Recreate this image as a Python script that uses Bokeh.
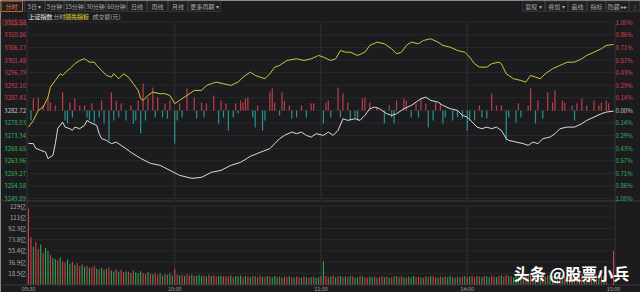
from bokeh.plotting import figure
from bokeh.models import Range1d
from bokeh.embed import file_html
from bokeh.resources import INLINE
from bokeh.core.properties import value

# ---------------- data ----------------
PRE_CLOSE = 3282.72
price_ticks = [3315.58, 3310.86, 3306.17, 3301.48, 3296.79, 3292.10, 3287.41, 3282.72,
               3278.03, 3273.34, 3268.65, 3263.96, 3259.27, 3254.58, 3249.89]
pct_labels = ["1.00%", "0.86%", "0.71%", "0.57%", "0.43%", "0.29%", "0.14%", "0.00%",
              "0.14%", "0.29%", "0.43%", "0.57%", "0.71%", "0.86%", "1.00%"]
vol_ticks = [129.2, 110.8, 92.3, 73.8, 55.4, 36.9, 18.5]
vol_labels = ["129亿", "111亿", "92.3亿", "73.8亿", "55.4亿", "36.9亿", "18.5亿"]
time_ticks = [0, 60, 120, 180, 240]
time_labels = ["09:30", "10:30", "11:30", "14:00", "15:00"]

# index (white line), minute -> price
index_t = [0, 2, 3, 5, 7, 8, 10, 11, 12, 14, 15, 17, 18, 19, 21, 23, 24, 25, 28, 29, 30, 32, 34, 36,
           38, 40, 42, 46, 50, 54, 58, 62, 67, 71, 75, 79, 83, 87, 91, 95, 99, 101, 103, 105, 108,
           110, 112, 114, 116, 118, 121, 123, 125, 127, 129, 131, 134, 136, 138, 140, 142, 144, 147,
           149, 151, 154, 157, 159, 161, 163, 165, 168, 170, 173, 176, 178, 180, 182, 184, 186, 188,
           190, 192, 194, 196, 197, 200, 203, 205, 207, 209, 211, 214, 216, 218, 221, 224, 227, 229,
           232, 235, 237, 240]
index_p = [3270.43, 3270.32, 3268.57, 3267.83, 3267.19, 3264.74, 3265.96, 3270.32, 3276.01, 3278.36,
           3276.50, 3275.90, 3275.27, 3276.50, 3275.90, 3277.13, 3278.99, 3278.36, 3277.13, 3274.04,
           3272.18, 3271.55, 3270.32, 3270.92, 3269.69, 3268.46, 3267.08, 3264.85, 3262.99, 3262.24,
           3260.38, 3258.52, 3257.40, 3257.78, 3259.64, 3260.38, 3262.24, 3263.36, 3265.59, 3267.08,
           3268.46, 3270.32, 3272.18, 3273.41, 3274.64, 3274.04, 3274.64, 3273.41, 3272.78, 3274.04,
           3273.41, 3274.64, 3273.41, 3275.27, 3279.62, 3278.99, 3279.62, 3278.99, 3280.85, 3283.35,
           3283.94, 3283.35, 3281.48, 3280.85, 3281.48, 3283.35, 3284.57, 3285.80, 3287.07, 3287.66,
           3286.44, 3285.80, 3284.57, 3283.35, 3282.71, 3280.85, 3280.22, 3278.36, 3276.50, 3275.90,
           3276.50, 3275.90, 3276.50, 3275.27, 3272.18, 3271.55, 3270.92, 3270.32, 3269.69, 3270.92,
           3270.32, 3272.18, 3272.78, 3274.04, 3275.90, 3276.50, 3276.50, 3277.76, 3278.99, 3280.22,
           3281.48, 3282.08, 3282.45]

# leading indicator (yellow line), minute -> price
lead_t = [0, 2, 4, 6, 8, 9, 11, 13, 14, 16, 17, 19, 21, 23, 25, 27, 28, 30, 32, 34, 35, 37, 39, 41,
          43, 45, 46, 47, 49, 51, 54, 56, 58, 60, 62, 65, 68, 71, 73, 75, 77, 80, 83, 86, 88, 91, 93,
          95, 97, 99, 101, 103, 106, 110, 113, 116, 119, 121, 124, 126, 128, 130, 132, 135, 138, 140,
          143, 146, 149, 151, 153, 155, 157, 160, 162, 165, 168, 170, 173, 176, 179, 181, 183, 185,
          188, 190, 193, 194, 196, 199, 202, 204, 206, 208, 210, 212, 215, 218, 221, 224, 227, 229,
          232, 235, 237, 240]
lead_p = [3276.50, 3278.99, 3282.71, 3283.94, 3287.66, 3291.39, 3293.88, 3296.37, 3295.74, 3297.60,
          3298.23, 3300.10, 3301.32, 3301.96, 3300.69, 3300.69, 3299.46, 3297.60, 3295.74, 3295.11,
          3296.37, 3294.51, 3296.37, 3295.11, 3292.65, 3290.16, 3287.07, 3286.44, 3288.30, 3289.53,
          3288.93, 3288.93, 3288.30, 3285.21, 3286.44, 3288.30, 3290.16, 3290.16, 3292.02, 3292.65,
          3293.25, 3292.65, 3292.02, 3293.25, 3295.11, 3296.97, 3295.74, 3295.11, 3294.51, 3296.37,
          3298.83, 3299.46, 3301.32, 3301.96, 3301.32, 3301.96, 3303.19, 3302.55, 3301.32, 3301.96,
          3305.05, 3304.41, 3304.41, 3303.19, 3304.41, 3306.91, 3308.14, 3307.54, 3305.68, 3303.82,
          3304.41, 3306.91, 3308.14, 3307.54, 3308.77, 3309.40, 3308.14, 3306.91, 3306.27, 3305.05,
          3304.41, 3302.55, 3300.10, 3298.83, 3298.83, 3300.10, 3300.69, 3300.10, 3296.37, 3294.51,
          3293.88, 3293.25, 3295.74, 3295.11, 3294.51, 3296.37, 3298.23, 3299.46, 3300.69, 3300.69,
          3301.96, 3303.19, 3304.41, 3305.68, 3306.91, 3307.28]

# buy/sell strength bars around the pre-close line
strength_t = [1, 2, 4, 6, 8, 9, 11, 14, 15, 16, 17, 18, 19, 21, 23, 24, 25, 26, 27, 29, 30, 31, 33, 34,
              35, 36, 37, 38, 40, 42, 43, 44, 45, 46, 47, 48, 49, 51, 52, 53, 55, 56, 57, 58, 60, 61,
              62, 63, 65, 68, 69, 71, 72, 73, 76, 78, 79, 80, 81, 82, 84, 85, 86, 87, 88, 89, 90, 92,
              93, 94, 96, 97, 99, 100, 101, 103, 104, 105, 107, 108, 110, 112, 114, 116, 117, 121,
              122, 123, 124, 127, 128, 129, 131, 132, 134, 135, 137, 138, 140, 143, 146, 148, 149,
              150, 151, 154, 155, 157, 159, 160, 161, 163, 164, 166, 167, 169, 170, 171, 174, 176,
              178, 180, 181, 183, 185, 186, 188, 190, 192, 194, 196, 197, 200, 201, 202, 205, 206,
              208, 209, 211, 213, 215, 216, 219, 220, 223, 224, 225, 227, 229, 232, 234, 235, 237, 238]
strength_v = [-10, 12, 13, 5, 13, 8, 5, 18, -10, -13, 8, -7, 12, 5, 5, -7, -10, 7, -12, -7, 10, -13,
              -30, 18, -10, 10, -7, 7, -10, 5, -13, -10, 10, -23, 27, -10, 13, 23, -7, 13, -7, 7, -8,
              10, -33, -10, 7, -7, 22, 13, -8, 8, -7, 7, 15, -13, 10, -7, 7, -20, -7, 7, -3, 10, 8, 12,
              13, -7, -17, 5, -20, -10, 18, 22, 8, -5, 18, 10, 5, -8, -7, 5, -7, 7, 7, -13, 8, 10, -7,
              23, -7, 17, 8, -10, -7, -10, 12, 13, 8, 3, -13, 5, -7, -13, 10, 12, 10, -7, 7, -7, 12, 7,
              -17, -10, 8, 7, -13, -7, -10, -7, -8, -20, -10, -10, 5, -7, -8, 17, 5, 5, -30, -7, -12, 7,
              -7, 5, 22, -13, 10, -8, 18, 8, 20, 10, 8, 5, -10, 7, 12, 5, 10, 5, 8, 10, 7]

# turnover per minute (亿元), 09:30 .. 15:00
volume = [125,
          78, 62, 70, 58, 66, 52, 60, 55, 48, 44,
          42, 40, 45, 38, 36, 41, 34, 37, 32, 35,
          30, 33, 29, 31, 27, 28, 30, 26, 25, 27,
          24, 26, 28, 23, 22, 25, 21, 24, 20, 22,
          21, 19, 23, 20, 18, 22, 19, 17, 20, 18,
          17, 19, 16, 18, 15, 17, 16, 18, 15, 26,
          17, 15, 16, 14, 17, 15, 16, 14, 15, 16,
          14, 15, 13, 16, 14, 15, 13, 14, 15, 13,
          14, 13, 15, 12, 14, 13, 15, 12, 14, 13,
          12, 14, 13, 12, 15, 13, 12, 14, 13, 12,
          14, 12, 13, 11, 13, 12, 14, 12, 11, 13,
          12, 11, 13, 12, 11, 12, 13, 11, 12, 14,
          38, 14, 12, 13, 15, 12, 13, 14, 12, 13,
          12, 14, 13, 11, 12, 14, 13, 12, 11, 13,
          12, 13, 11, 12, 14, 12, 13, 11, 12, 13,
          14, 12, 13, 12, 11, 13, 12, 14, 12, 13,
          12, 11, 13, 12, 14, 13, 12, 11, 13, 12,
          13, 12, 14, 12, 11, 13, 12, 13, 14, 12,
          13, 15, 12, 14, 13, 12, 14, 13, 12, 15,
          13, 12, 14, 15, 13, 16, 14, 13, 12, 14,
          13, 14, 12, 15, 13, 16, 14, 13, 15, 12,
          14, 13, 15, 16, 14, 13, 15, 14, 16, 13,
          14, 15, 13, 16, 14, 15, 17, 14, 15, 16,
          15, 14, 16, 15, 17, 14, 16, 0, 0, 55]
volume_dir = "r" + "".join([
    "rgrrgrggrg", "grgrrggrgr", "rggrgrrgrg", "grrggrgrrg", "rgrgggrrgr", "grrgrgrggr",
    "rgrgrrgrgg", "grgrgrrggr", "rrgrgggrgr", "grgrrgrgrg", "ggrgrrgrgr", "rgrgrgrggr",
    "grrgrgrgrg", "rgrggrgrrg", "grgrrgrgrg", "rgrgrgggrr", "grgrgrrgrg", "rggrgrgrgr",
    "grrgrgrggr", "rgrgrrgrgg", "grgrgrrgrg", "rgrggrgrgr", "grgrrgrgrg", "rgrgrgrrgr"])
minutes = list(range(len(volume)))

# ---------------- styling / layout ----------------
W, H = 640, 292
BG = "#1c1c1e"
RED, GREEN, WHITE = "#d8434f", "#35b45a", "#c8c8c8"
FONT = value("Noto Sans CJK SC")
X0_PX, X1_PX = 28.0, 613.0            # 09:30 and 15:00
PRICE_TOP_PX, PRICE_BOT_PX = 21.7, 198.0
VOL_TOP_PX, VOL_ZERO_PX = 205.5, 284.0

ppm = (X1_PX - X0_PX) / 240.0
ptop, pbot = price_ticks[0], price_ticks[-1]
k = (ptop - pbot) / (PRICE_BOT_PX - PRICE_TOP_PX)
vmax = vol_ticks[0]
vk = vmax / (VOL_ZERO_PX - VOL_TOP_PX)
base_px = PRICE_TOP_PX + (ptop - PRE_CLOSE) / k

p = figure(width=W, height=H, output_backend="svg", toolbar_location=None,
           x_range=Range1d(-X0_PX / ppm, 240 + (W - X1_PX) / ppm),
           y_range=Range1d(pbot - (H - PRICE_BOT_PX) * k, ptop + PRICE_TOP_PX * k),
           x_axis_location=None, y_axis_location=None, min_border=0,
           background_fill_color=BG, border_fill_color=BG, outline_line_color=None)
p.grid.visible = False
p.extra_x_ranges = {"px": Range1d(0, W)}
p.extra_y_ranges = {"py": Range1d(H, 0),
                    "vol": Range1d(-(H - VOL_ZERO_PX) * vk, vmax + VOL_TOP_PX * vk),
                    "str": Range1d(-(H - base_px), base_px)}

GRID = "#2a2a2d"
n = len(price_ticks)
p.segment(x0=[0] * n, x1=[240] * n, y0=price_ticks, y1=price_ticks, line_color=GRID, line_width=1)
m = len(vol_ticks)
p.segment(x0=[0] * m, x1=[240] * m, y0=vol_ticks, y1=vol_ticks, line_color=GRID, line_width=1,
          y_range_name="vol")
vg = time_ticks[1:-1]
p.segment(x0=vg, x1=vg, y0=[ptop] * len(vg), y1=[pbot] * len(vg), line_color="#333336")
p.segment(x0=vg, x1=vg, y0=[0] * len(vg), y1=[vmax] * len(vg), line_color="#333336",
          y_range_name="vol")
p.segment(x0=[X0_PX - 1.5, X1_PX + 1.5], x1=[X0_PX - 1.5, X1_PX + 1.5], y0=[PRICE_TOP_PX] * 2,
          y1=[VOL_ZERO_PX] * 2, line_color="#333336", x_range_name="px", y_range_name="py")
p.segment(x0=[0, 0], x1=[W, W], y0=[200.5, VOL_ZERO_PX + 0.5], y1=[200.5, VOL_ZERO_PX + 0.5],
          line_color="#38383b", x_range_name="px", y_range_name="py")

# strength bars
s_col = [RED if v > 0 else "#2aa6a6" for v in strength_v]
p.vbar(x=strength_t, top=strength_v, bottom=0, width=0.5, fill_color=s_col, line_color=None,
       fill_alpha=0.85, y_range_name="str")

# price lines
p.line(lead_t, lead_p, line_color="#d0c53e", line_width=1)
p.line(index_t, index_p, line_color="#dcdcdc", line_width=1)

# volume bars
v_col = ["#d2404e" if c == "r" else "#2aa84e" for c in volume_dir]
p.vbar(x=minutes, top=volume, bottom=0, width=0.45, fill_color=v_col, line_color=None,
       y_range_name="vol")

# ---------------- axis texts ----------------
lab_col = [RED if v > PRE_CLOSE else (GREEN if v < PRE_CLOSE else WHITE) for v in price_ticks]
p.quad(left=[0], right=[26], top=[18.2], bottom=[25.4], fill_color="#3a2226", line_color=None,
       x_range_name="px", y_range_name="py")
p.text(x=[25.5] * n, y=price_ticks, text=[f"{v:.2f}" for v in price_ticks], text_color=lab_col,
       text_align="right", text_baseline="middle", text_font=FONT, text_font_size="6px",
       x_range_name="px")
p.text(x=[615] * n, y=price_ticks, text=pct_labels, text_color=lab_col, text_align="left",
       text_baseline="middle", text_font=FONT, text_font_size="6px", x_range_name="px")
p.text(x=[25.5] * m, y=vol_ticks, text=vol_labels, text_color="#a8a8a8", text_align="right",
       text_baseline="middle", text_font=FONT, text_font_size="6px", x_range_name="px",
       y_range_name="vol")
p.text(x=time_ticks, y=[288.3] * len(time_ticks), text=time_labels, text_color="#a0a0a0",
       text_align="center", text_baseline="middle", text_font=FONT, text_font_size="5.5px",
       y_range_name="py")

# ---------------- header (toolbar) ----------------
btn = [("分时", 0, 22), ("5日 ▾", 24, 44), ("5分钟", 45, 63), ("15分钟", 64, 84),
       ("30分钟", 85, 105), ("60分钟", 106, 126), ("日线", 127, 146), ("周线", 147, 167),
       ("月线", 168, 187), ("更多周期 ▾", 188, 220),
       ("复权 ▾", 522, 544), ("叠加 ▾", 545, 567), ("画线", 568, 586), ("指标", 587, 605),
       ("隐藏 ▸▸", 606, 628), ("⋮", 629, 639)]
p.quad(left=[b[1] for b in btn], right=[b[2] for b in btn], top=[0.5] * len(btn),
       bottom=[11] * len(btn), fill_color="#202023", line_color="#3a3a3e", line_width=0.8,
       x_range_name="px", y_range_name="py")
p.quad(left=[0.5], right=[22], top=[0.5], bottom=[11], fill_color=None, line_color="#c8642a",
       line_width=1, x_range_name="px", y_range_name="py")
p.text(x=[(b[1] + b[2]) / 2 for b in btn], y=[5.8] * len(btn), text=[b[0] for b in btn],
       text_color=["#e07b39"] + ["#a8a8a8"] * (len(btn) - 1), text_align="center",
       text_baseline="middle", text_font=FONT, text_font_size="6px",
       x_range_name="px", y_range_name="py")

# legend row
p.quad(left=[27, 63], right=[47, 88], top=[12.5, 12.5], bottom=[19.5, 19.5],
       fill_color=["#2e2e31", "#3b3a1c"], line_color=None, x_range_name="px", y_range_name="py")
p.text(x=[28, 53, 64.5, 92], y=[16.2] * 4, text=["上证指数", "分时", "领先指标", "成交额(元)"],
       text_color=["#e8e8e8", "#a8a8a8", "#d8cc40", "#a8a8a8"], text_align="left",
       text_baseline="middle", text_font=FONT, text_font_size="6px",
       x_range_name="px", y_range_name="py")

# watermark
p.text(x=[571], y=[272], text=["头条 @股票小兵"], text_color="#ffffff", text_align="center",
       text_baseline="middle", text_font=FONT, text_font_size="16px", text_font_style="bold",
       x_range_name="px", y_range_name="py")

open("out.html", "w").write(file_html(p, INLINE))
